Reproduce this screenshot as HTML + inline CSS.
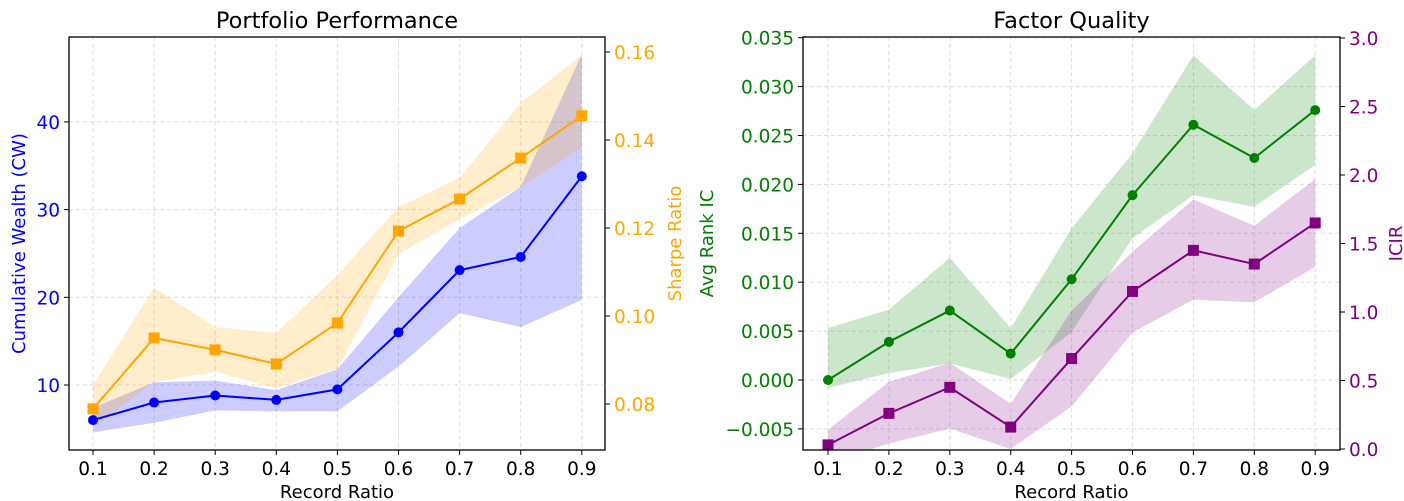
<!DOCTYPE html>
<html><head><meta charset="utf-8"><style>
html,body{margin:0;padding:0;background:#fff;}
svg{display:block;font-family:"DejaVu Sans","Liberation Sans",sans-serif;}
</style></head><body>
<svg id="c" width="1404" height="501" xmlns="http://www.w3.org/2000/svg"></svg>
<script>
const ratios=[0.1,0.2,0.3,0.4,0.5,0.6,0.7,0.8,0.9];
const xTicks=["0.1","0.2","0.3","0.4","0.5","0.6","0.7","0.8","0.9"];
const cwMean=[6.0,8.0,8.8,8.3,9.5,16.0,23.1,24.6,33.8];
const cwLow=[4.6,5.7,7.1,7.0,7.0,12.1,18.2,16.6,19.7];
const cwHigh=[7.4,10.3,10.5,9.4,11.8,20.0,27.9,32.6,47.7];
const srMean=[0.0789,0.095,0.0923,0.0891,0.0984,0.1193,0.1266,0.1359,0.1455];
const srLow=[0.0745,0.085,0.0873,0.0836,0.088,0.1141,0.122,0.1293,0.1382];
const srHigh=[0.0843,0.1064,0.0975,0.0961,0.1093,0.1248,0.1314,0.1484,0.1593];
const cwTicks=[10,20,30,40];
const srTicks=[0.08,0.10,0.12,0.14,0.16];
const icMean=[0.0,0.0039,0.0071,0.0027,0.0103,0.0189,0.0261,0.0227,0.0276];
const icLow=[-0.0008,0.0007,0.0017,0.0001,0.0049,0.0145,0.0189,0.0177,0.022];
const icHigh=[0.0053,0.0072,0.0125,0.0053,0.0155,0.0232,0.0332,0.0276,0.0332];
const irMean=[0.03,0.26,0.45,0.16,0.66,1.15,1.45,1.35,1.65];
const irLow=[-0.1,0.04,0.15,0.0,0.31,0.85,1.09,1.07,1.33];
const irHigh=[0.14,0.49,0.63,0.33,1.01,1.44,1.82,1.63,1.97];
const icTicks=[-0.005,0,0.005,0.01,0.015,0.02,0.025,0.03,0.035];
const irTicks=[0,0.5,1.0,1.5,2.0,2.5,3.0];

const NS="http://www.w3.org/2000/svg";
const svg=document.getElementById('c');
function mk(tag,attrs,parent){const e=document.createElementNS(NS,tag);for(const k in attrs)e.setAttribute(k,attrs[k]);(parent||svg).appendChild(e);return e;}
function txt(s,attrs,parent){const e=mk('text',attrs,parent);e.textContent=s;return e;}

function panel(cfg){
  const g=mk('g',{});
  
  
  const L=cfg.L,R=cfg.R,T=37,B=450;
  const xs=v=>cfg.x0+(v-0.1)/0.1*cfg.xstep;
  const yl=v=>cfg.yl0+(v-cfg.ylRef)*cfg.ylScale;
  const yr=v=>cfg.yr0+(v-cfg.yrRef)*cfg.yrScale;
  const clip='clip-'+cfg.name;
  const cp=mk('clipPath',{id:clip},g);mk('rect',{x:L,y:T,width:R-L,height:B-T},cp);
  ratios.forEach(v=>{const l=mk('line',{x1:xs(v),x2:xs(v),y1:T,y2:B,stroke:'#ddd','stroke-dasharray':'4,3','stroke-width':1},g);
    });
  cfg.lTicks.forEach(v=>{const l=mk('line',{x1:L,x2:R,y1:yl(v),y2:yl(v),stroke:'#ddd','stroke-dasharray':'4,3','stroke-width':1},g);
    });
  const cg=mk('g',{'clip-path':`url(#${clip})`},g);
  function band(lo,hi,fy,color,op,name){
    let d='M'+ratios.map((r,i)=>xs(r)+','+fy(hi[i])).join('L');
    d+='L'+ratios.slice().reverse().map((r,j)=>{const i=ratios.length-1-j;return xs(r)+','+fy(lo[i]);}).join('L')+'Z';
    const p=mk('path',{d:d,fill:color,'fill-opacity':op},cg);
    
  }
  function line(m,fy,color,marker,name){
    const p=mk('polyline',{points:ratios.map((r,i)=>xs(r)+','+fy(m[i])).join(' '),fill:'none',stroke:color,'stroke-width':2},cg);
    
    ratios.forEach((r,i)=>{let e;
      if(marker==='o')e=mk('circle',{cx:xs(r),cy:fy(m[i]),r:5,fill:color},cg);
      else e=mk('rect',{x:xs(r)-5.5,y:fy(m[i])-5.5,width:11,height:11,fill:color},cg);
      });
  }
  band(cfg.lLow,cfg.lHigh,yl,cfg.lColor,cfg.lOp,cfg.lName+'-band');
  band(cfg.rLow,cfg.rHigh,yr,cfg.rBand,cfg.rOp,cfg.rName+'-band');
  line(cfg.lMean,yl,cfg.lColor,cfg.lMarker,cfg.lName);
  line(cfg.rMean,yr,cfg.rColor,cfg.rMarker,cfg.rName);
  const f=mk('rect',{x:L,y:T,width:R-L,height:B-T,fill:'none',stroke:'#000','stroke-width':1.3},g);
  
  ratios.forEach((v,i)=>{mk('line',{x1:xs(v),x2:xs(v),y1:B,y2:B+5,stroke:'#000'},g);
    const t=txt(xTicks[i],{x:xs(v),y:B+25,'font-size':18.5,'text-anchor':'middle',fill:'#000'},g);
    });
  cfg.lTicks.forEach(v=>{mk('line',{x1:L-5,x2:L,y1:yl(v),y2:yl(v),stroke:'#000'},g);
    const t=txt(cfg.lFmt(v),{x:L-9,y:yl(v)+7,'font-size':18.5,'text-anchor':'end',fill:cfg.lColor},g);
    });
  cfg.rTicks.forEach(v=>{mk('line',{x1:R,x2:R+5,y1:yr(v),y2:yr(v),stroke:'#000'},g);
    const t=txt(cfg.rFmt(v),{x:R+9,y:yr(v)+7,'font-size':18.5,'text-anchor':'start',fill:cfg.rColor},g);
    });
  const tt=txt(cfg.title,{x:(L+R)/2,y:28,'font-size':22.5,'text-anchor':'middle',fill:'#000'},g);
  
  const xl=txt('Record Ratio',{x:(L+R)/2,y:498,'font-size':18,'text-anchor':'middle',fill:'#000'},g);
  
  const ly=txt(cfg.lLabel,{x:0,y:0,'font-size':18,'text-anchor':'middle',fill:cfg.lColor,transform:`translate(${cfg.lLabX},${(T+B)/2}) rotate(-90)`},g);
  
  const ry=txt(cfg.rLabel,{x:0,y:0,'font-size':18,'text-anchor':'middle',fill:cfg.rColor,transform:`translate(${cfg.rLabX},${(T+B)/2}) rotate(-90)`},g);
  
}
panel({name:'portfolio-performance-chart',title:'Portfolio Performance',L:69,R:605,x0:93,xstep:61.1,
  yl0:385,ylRef:10,ylScale:-8.77,yr0:404,yrRef:0.08,yrScale:-4400,
  lTicks:cwTicks,rTicks:srTicks,lFmt:v=>String(v),rFmt:v=>v.toFixed(2),
  lMean:cwMean,lLow:cwLow,lHigh:cwHigh,rMean:srMean,rLow:srLow,rHigh:srHigh,
  lColor:'#0000ff',lOp:0.2,lMarker:'o',lName:'cumulative-wealth',
  rColor:'#ffa500',rBand:'#ffa500',rOp:0.2,rMarker:'s',rName:'sharpe-ratio',
  lLabel:'Cumulative Wealth (CW)',rLabel:'Sharpe Ratio',lLabX:25,rLabX:681});
panel({name:'factor-quality-chart',title:'Factor Quality',L:803,R:1340,x0:828,xstep:60.9,
  yl0:380,ylRef:0,ylScale:-9780,yr0:449,yrRef:0,yrScale:-137,
  lTicks:icTicks,rTicks:irTicks,lFmt:v=>(v<0?'\u2212':'')+Math.abs(v).toFixed(3),rFmt:v=>v.toFixed(1),
  lMean:icMean,lLow:icLow,lHigh:icHigh,rMean:irMean,rLow:irLow,rHigh:irHigh,
  lColor:'#008000',lOp:0.2,lMarker:'o',lName:'avg-rank-ic',
  rColor:'#800080',rBand:'#800080',rOp:0.2,rMarker:'s',rName:'icir',
  lLabel:'Avg Rank IC',rLabel:'ICIR',lLabX:713,rLabX:1402});
</script>
</body></html>
